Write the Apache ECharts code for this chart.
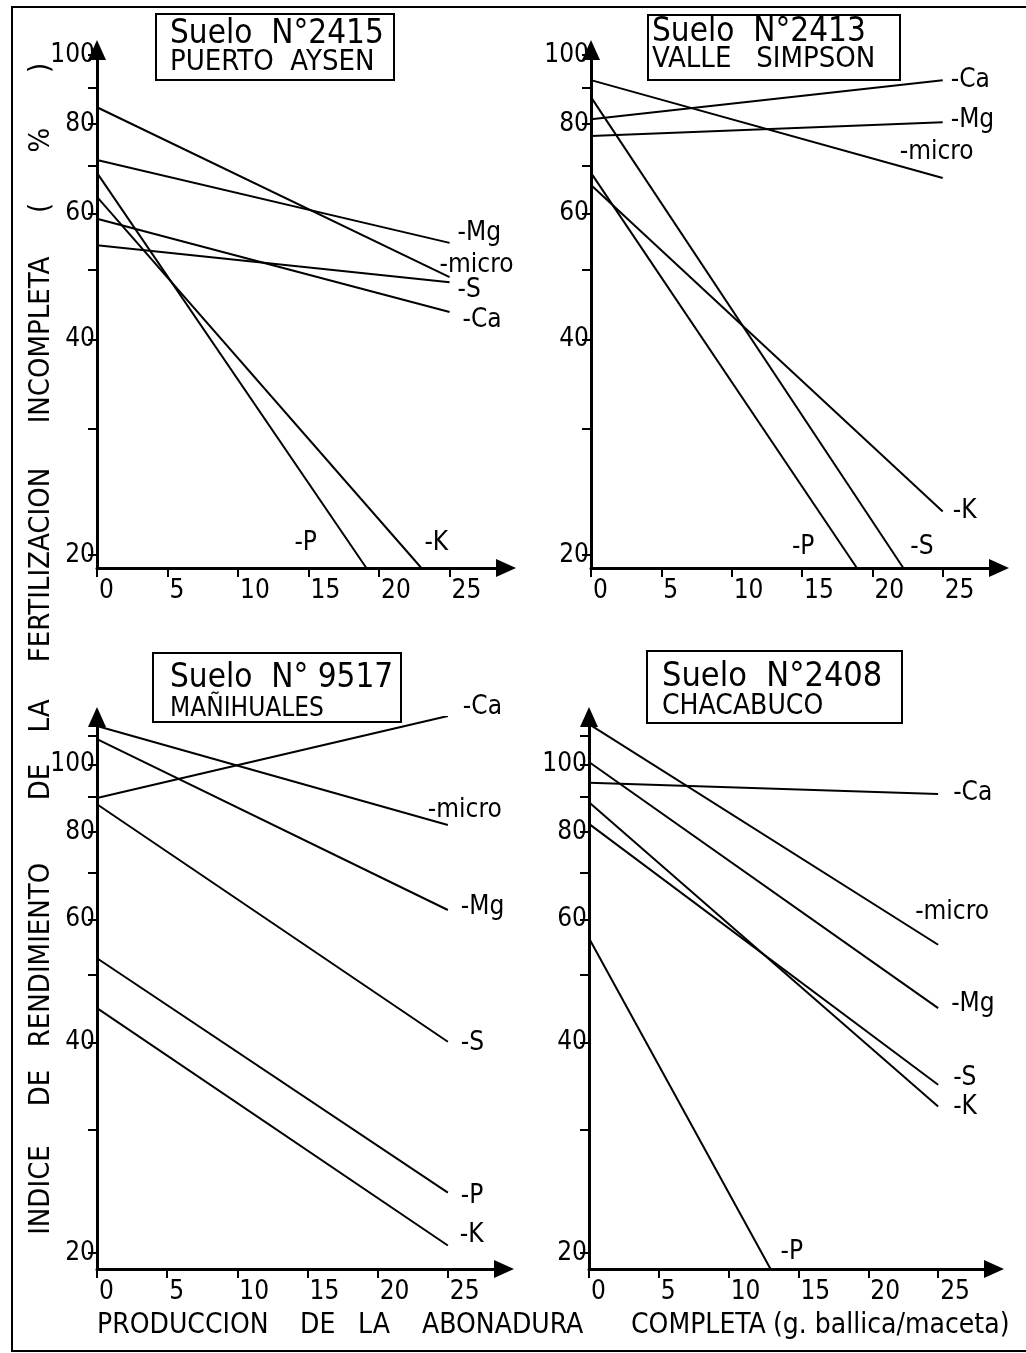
<!DOCTYPE html>
<html>
<head>
<meta charset="utf-8">
<style>
  html, body { margin: 0; padding: 0; background: #fff; }
  #chart { width: 1026px; height: 1353px; }
</style>
<script src="https://cdn.jsdelivr.net/npm/echarts@6/dist/echarts.min.js"></script>
</head>
<body>
<div id="chart"></div>
<script>
// eje x: produccion de la abonadura completa (g ballica/maceta)
const xTicks = [0, 5, 10, 15, 20, 25];
// eje y (escala logaritmica): marcas y etiquetas, %
const yTicksTop = [20, 30, 40, 50, 60, 70, 80, 90, 100];
const yTicksBottom = [20, 30, 40, 50, 60, 70, 80, 90, 100, 110];
const yLabels = [20, 40, 60, 80, 100];

// Suelo N°2415 - Puerto Aysen
const s2415Names = ['Mg', 'micro', 'S', 'Ca', 'P', 'K'];
const s2415X = [[0, 25], [0, 25], [0, 25], [0, 25], [0, 19.1], [0, 23.0]];
const s2415Y = [[71.3, 54.6], [84.5, 48.9], [54.2, 48.1], [59.0, 43.7], [68.4, 19.17], [63.3, 19.17]];

// Suelo N°2413 - Valle Simpson
const s2413Names = ['Ca', 'Mg', 'micro', 'K', 'S', 'P'];
const s2413X = [[0, 25], [0, 25], [0, 25], [0, 25], [0, 22.2], [0, 18.9]];
const s2413Y = [[81.3, 92.2], [77.0, 80.5], [92.2, 67.3], [65.8, 23.0], [87.3, 19.17], [68.4, 19.17]];

// Suelo N° 9517 - Mañihuales
const s9517Names = ['Ca', 'micro', 'Mg', 'S', 'P', 'K'];
const s9517X = [[0, 25], [0, 25], [0, 25], [0, 25], [0, 25], [0, 25]];
const s9517Y = [[89.5, 117.3], [113.5, 81.9], [108.7, 61.9], [87.7, 40.1], [52.8, 24.4], [44.8, 20.5]];

// Suelo N°2408 - Chacabuco
const s2408Names = ['Ca', 'micro', 'Mg', 'S', 'K', 'P'];
const s2408X = [[0, 25], [0, 25], [0, 25], [0, 25], [0, 25], [0, 13.0]];
const s2408Y = [[94.1, 90.7], [114.2, 55.2], [100.8, 44.8], [82.2, 34.8], [88.3, 32.4], [56.4, 18.97]];

const FONT = "'DejaVu Sans Condensed', 'DejaVu Sans', sans-serif";

// disposicion de los cuatro graficos
const panels = [
  {
    names: s2415Names, xs: s2415X, ys: s2415Y, yTicks: yTicksTop,
    grid: { left: 97, top: 50, width: 409, height: 518 }, yMin: 19.17, yMax: 101.6,
    box: [156, 14, 238, 66], title: ['Suelo  N°2415', 'PUERTO  AYSEN'], titleX: 170, titleY: [34, 62], titleSize: [33, 29],
    offsets: { Mg: [0, -10], micro: [-18, -12], S: [0, 8], Ca: [5, 8], P: [-80, -25], K: [-5, -25] }
  },
  {
    names: s2413Names, xs: s2413X, ys: s2413Y, yTicks: yTicksTop,
    grid: { left: 591, top: 50, width: 408, height: 518 }, yMin: 19.17, yMax: 101.6,
    box: [648, 15, 252, 65], title: ['Suelo  N°2413', 'VALLE   SIMPSON'], titleX: 652, titleY: [32, 59], titleSize: [33, 29],
    offsets: { Ca: [0, 0], Mg: [0, -2], micro: [-51, -26], K: [2, 0], S: [-1, -21], P: [-73, -21] }
  },
  {
    names: s9517Names, xs: s9517X, ys: s9517Y, yTicks: yTicksBottom,
    grid: { left: 97, top: 717, width: 407, height: 552 }, yMin: 18.97, yMax: 116.9,
    box: [153, 653, 248, 69], title: ['Suelo  N° 9517', 'MAÑIHUALES'], titleX: 170, titleY: [678, 709], titleSize: [33, 26],
    offsets: { Ca: [7, -9], micro: [-28, -15], Mg: [5, -3], S: [5, 1], P: [5, 4], K: [4, -10] }
  },
  {
    names: s2408Names, xs: s2408X, ys: s2408Y, yTicks: yTicksBottom,
    grid: { left: 589, top: 717, width: 405, height: 552 }, yMin: 18.97, yMax: 116.9,
    box: [647, 651, 255, 72], title: ['Suelo  N°2408', 'CHACABUCO'], titleX: 662, titleY: [677, 707], titleSize: [34, 28],
    offsets: { Ca: [7, -1], micro: [-31, -33], Mg: [5, -4], S: [7, -7], K: [7, 1], P: [2, -17] }
  }
];

// titulo del eje y, palabra por palabra (centro en y)
const yTitleWords = [['INDICE', 1190], ['DE', 1088], ['RENDIMIENTO', 955], ['DE', 782], ['LA', 716],
  ['FERTILIZACION', 565], ['INCOMPLETA', 340], ['(', 208], ['%', 140], [')', 68]];
// titulo del eje x
const xTitleWords = [['PRODUCCION', 97], ['DE', 300], ['LA', 358], ['ABONADURA', 422], ['COMPLETA', 631], ['(g. ballica/maceta)', 773]];

const log10 = v => Math.log10(v);

const grids = [], xAxes = [], yAxes = [], series = [], graphics = [];

panels.forEach((p, i) => {
  grids.push(Object.assign({ containLabel: false }, p.grid));
  xAxes.push({
    type: 'value', gridIndex: i, min: 0, max: 29,
    axisLine: { show: true, onZero: false, symbol: ['none', 'triangle'], symbolSize: [18, 20], lineStyle: { color: '#000', width: 3 } },
    axisTick: { show: true, length: 9, customValues: xTicks, lineStyle: { color: '#000', width: 2 } },
    axisLabel: { customValues: xTicks, color: '#000', fontSize: 26, fontFamily: FONT, margin: 10, align: 'left', padding: [0, 0, 0, 2] },
    splitLine: { show: false }
  });
  yAxes.push({
    type: 'value', gridIndex: i, min: log10(p.yMin), max: log10(p.yMax),
    axisLine: { show: true, onZero: false, symbol: ['none', 'triangle'], symbolSize: [18, 20], lineStyle: { color: '#000', width: 3 } },
    axisTick: { show: true, length: 9, customValues: p.yTicks.map(log10), lineStyle: { color: '#000', width: 2 } },
    axisLabel: {
      customValues: yLabels.map(log10), color: '#000', fontSize: 26, fontFamily: FONT, margin: 2,
      formatter: v => String(Math.round(Math.pow(10, v)))
    },
    splitLine: { show: false }
  });
  p.names.forEach((name, k) => {
    series.push({
      type: 'line', name: name, xAxisIndex: i, yAxisIndex: i,
      data: p.xs[k].map((x, j) => [x, log10(p.ys[k][j])]),
      symbol: 'none', silent: true,
      lineStyle: { color: '#000', width: 2 },
      endLabel: {
        show: true, formatter: '-' + name, offset: p.offsets[name],
        color: '#000', fontSize: 26, fontFamily: FONT
      }
    });
  });
  // recuadro del titulo
  graphics.push({
    type: 'rect', shape: { x: p.box[0], y: p.box[1], width: p.box[2], height: p.box[3] },
    style: { fill: '#fff', stroke: '#000', lineWidth: 2 }, z: 10
  });
  p.title.forEach((t, j) => {
    graphics.push({
      type: 'text', x: p.titleX, y: p.titleY[j], z: 11,
      style: { text: t, fill: '#000', fontSize: p.titleSize[j], fontFamily: FONT, align: 'left', verticalAlign: 'middle' }
    });
  });
});

yTitleWords.forEach(w => {
  graphics.push({
    type: 'text', x: 41, y: w[1], rotation: Math.PI / 2,
    style: { text: w[0], fill: '#000', fontSize: 29, fontFamily: FONT, align: 'center', verticalAlign: 'middle' }
  });
});
xTitleWords.forEach(w => {
  graphics.push({
    type: 'text', x: w[1], y: 1326,
    style: { text: w[0], fill: '#000', fontSize: 28, fontFamily: FONT, align: 'left', verticalAlign: 'middle' }
  });
});

// marco de la figura
graphics.push({ type: 'polyline', shape: { points: [[1026, 7], [12, 7], [12, 1351], [1026, 1351]] }, style: { fill: null, stroke: '#000', lineWidth: 2 } });

const chart = echarts.init(document.getElementById('chart'));
chart.setOption({
  animation: false,
  backgroundColor: '#fff',
  grid: grids,
  xAxis: xAxes,
  yAxis: yAxes,
  series: series,
  graphic: graphics
});
window.addEventListener('resize', function () {
  chart.resize();
});
</script>
</body>
</html>
